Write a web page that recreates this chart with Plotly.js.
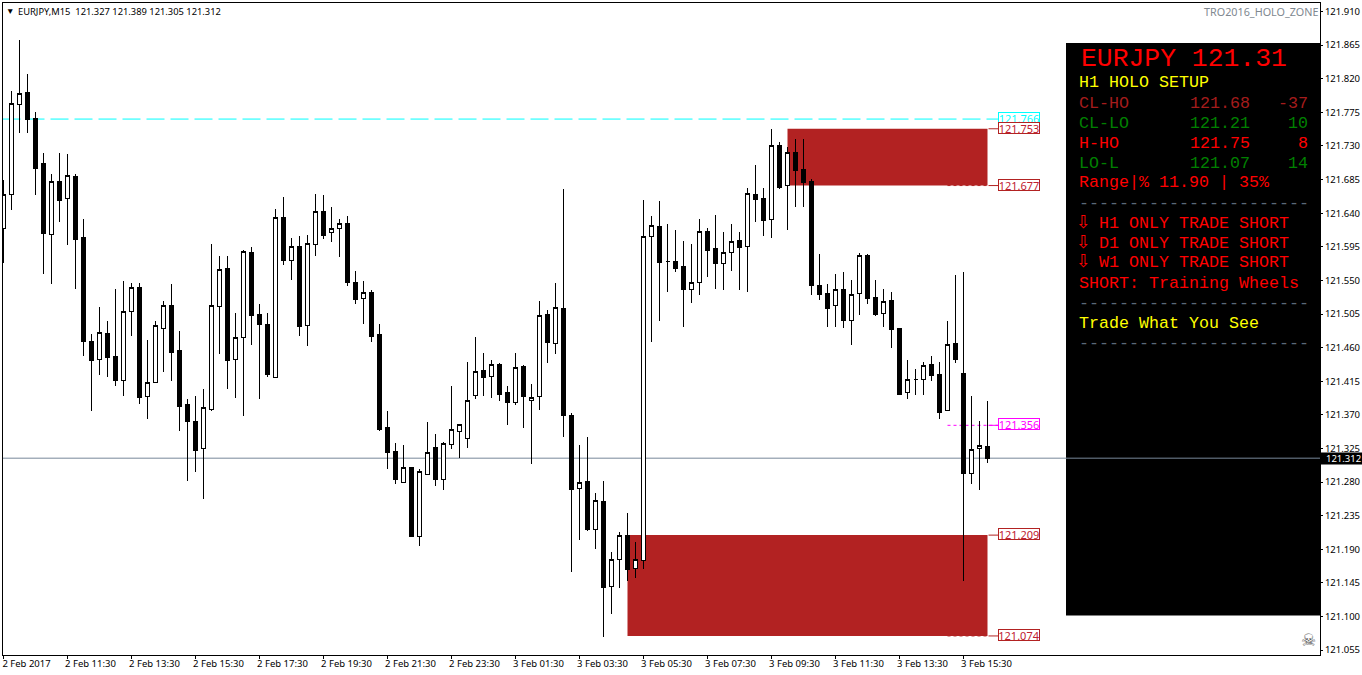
<!DOCTYPE html>
<html>
<head>
<meta charset="utf-8">
<script src="https://cdn.plot.ly/plotly-3.0.0.min.js"></script>
<style>html,body{margin:0;padding:0;background:#fff}#chart{width:1362px;height:675px}
#chart path.box{shape-rendering:crispEdges}</style>
</head>
<body>
<div id="chart"></div>
<script>
const opens = [121.620,121.665,121.785,121.802,121.767,121.706,121.611,121.682,121.660,121.689,
121.607,121.468,121.444,121.479,121.448,121.416,121.508,121.541,121.395,121.413,
121.486,121.516,121.456,121.384,121.361,121.325,121.377,121.515,121.566,121.444,
121.474,121.587,121.504,121.491,121.420,121.634,121.577,121.595,121.490,121.598,
121.642,121.614,121.620,121.626,121.547,121.526,121.534,121.478,121.353,121.321,
121.279,121.300,121.207,121.290,121.326,121.283,121.330,121.348,121.338,121.396,
121.429,121.421,121.437,121.400,121.387,121.435,121.389,121.395,121.504,121.466,
121.512,121.369,121.271,121.281,121.216,121.254,121.140,121.176,121.209,121.164,
121.175,121.609,121.622,121.575,121.575,121.569,121.538,121.547,121.615,121.593,
121.573,121.587,121.603,121.595,121.665,121.660,121.632,121.731,121.677,121.721,
121.699,121.682,121.543,121.532,121.516,121.538,121.496,121.532,121.583,121.527,
121.506,121.523,121.486,121.400,121.417,121.417,121.437,121.424,121.376,121.466,
121.425,121.291,121.325,121.327];
const highs = [121.684,121.803,121.872,121.826,121.776,121.721,121.693,121.720,121.719,121.692,
121.632,121.478,121.515,121.496,121.538,121.549,121.547,121.546,121.470,121.496,
121.523,121.545,121.482,121.391,121.395,121.405,121.599,121.583,121.583,121.507,
121.591,121.595,121.518,121.507,121.646,121.662,121.607,121.609,121.611,121.666,
121.664,121.648,121.632,121.636,121.563,121.549,121.537,121.492,121.375,121.332,
121.329,121.300,121.297,121.360,121.345,121.334,121.409,121.357,121.441,121.474,
121.453,121.444,121.439,121.408,121.453,121.437,121.411,121.523,121.510,121.547,
121.673,121.372,121.330,121.340,121.266,121.281,121.187,121.213,121.238,121.200,
121.658,121.636,121.656,121.625,121.617,121.603,121.599,121.632,121.620,121.638,
121.615,121.626,121.615,121.674,121.705,121.674,121.753,121.735,121.729,121.739,
121.739,121.686,121.586,121.545,121.559,121.561,121.550,121.587,121.585,121.550,
121.538,121.535,121.486,121.443,121.432,121.441,121.449,121.441,121.495,121.557,
121.561,121.395,121.362,121.389];
const lows = [121.573,121.644,121.747,121.748,121.665,121.559,121.545,121.628,121.598,121.539,
121.449,121.375,121.423,121.421,121.409,121.395,121.476,121.385,121.365,121.412,
121.427,121.416,121.348,121.281,121.293,121.258,121.375,121.452,121.405,121.393,
121.369,121.464,121.391,121.421,121.420,121.571,121.550,121.476,121.462,121.583,
121.606,121.602,121.582,121.543,121.519,121.491,121.468,121.348,121.298,121.278,
121.279,121.207,121.195,121.290,121.275,121.270,121.324,121.312,121.325,121.391,
121.395,121.393,121.389,121.357,121.383,121.353,121.304,121.376,121.440,121.451,
121.341,121.159,121.203,121.215,121.191,121.072,121.104,121.138,121.148,121.152,
121.164,121.467,121.496,121.535,121.561,121.488,121.520,121.531,121.554,121.539,
121.537,121.562,121.537,121.535,121.628,121.610,121.607,121.673,121.618,121.648,
121.648,121.530,121.524,121.487,121.487,121.486,121.463,121.504,121.519,121.502,
121.487,121.459,121.396,121.391,121.396,121.396,121.416,121.365,121.376,121.440,
121.148,121.277,121.269,121.305];
const closes = [121.665,121.787,121.800,121.765,121.700,121.613,121.682,121.657,121.690,121.605,
121.468,121.443,121.480,121.447,121.416,121.508,121.541,121.393,121.413,121.490,
121.516,121.453,121.381,121.361,121.322,121.380,121.516,121.565,121.443,121.474,
121.589,121.503,121.491,121.424,121.634,121.577,121.595,121.488,121.599,121.642,
121.610,121.620,121.626,121.547,121.524,121.534,121.475,121.350,121.320,121.283,
121.300,121.207,121.294,121.320,121.283,121.332,121.350,121.357,121.389,121.428,
121.420,121.437,121.397,121.387,121.433,121.395,121.393,121.503,121.467,121.514,
121.369,121.270,121.279,121.216,121.255,121.139,121.176,121.209,121.163,121.176,
121.609,121.624,121.574,121.575,121.566,121.538,121.547,121.615,121.590,121.573,
121.587,121.602,121.594,121.666,121.658,121.630,121.731,121.674,121.721,121.697,
121.681,121.543,121.531,121.512,121.538,121.496,121.531,121.583,121.526,121.504,
121.522,121.484,121.397,121.417,121.417,121.436,121.423,121.373,121.464,121.444,
121.291,121.324,121.329,121.312];

const yTicks = [121.055,121.100,121.145,121.190,121.235,121.280,121.325,121.370,121.415,121.460,
121.505,121.550,121.595,121.640,121.685,121.730,121.775,121.820,121.865,121.910];
const xTickIndex = [0,8,16,24,32,40,48,56,64,72,80,88,96,104,112,120];
const xTickText = ["2 Feb 2017","2 Feb 11:30","2 Feb 13:30","2 Feb 15:30","2 Feb 17:30","2 Feb 19:30","2 Feb 21:30","2 Feb 23:30",
"3 Feb 01:30","3 Feb 03:30","3 Feb 05:30","3 Feb 07:30","3 Feb 09:30","3 Feb 11:30","3 Feb 13:30","3 Feb 15:30"];

const bidPrice = 121.312;
const RED = "#B22222", CYAN = "#00FFFF", MAGENTA = "#FF00FF", BID = "#778899";
const UI = "'Noto Sans', 'Open Sans', sans-serif";
const MONO = "'Liberation Mono', monospace";

const W = 1362, H = 675, mL = 3, mR = 42, mT = 3, mB = 20;
const pw = W - mL - mR, ph = H - mT - mB;
const px = x => (x - mL) / pw;
const py = y => 1 - (y - mT) / ph;

const t0 = Date.UTC(2017, 1, 2, 9, 30);
const step = 15 * 60 * 1000;
const tAt = i => new Date(t0 + i * step).toISOString().slice(0, 23).replace("T", " ");
const times = opens.map((_, i) => tAt(i));
const xOf = pixel => tAt((pixel - 3) / 8);

const trace = {
  type: "candlestick", x: times, open: opens, high: highs, low: lows, close: closes,
  whiskerwidth: 0, hoverinfo: "skip",
  increasing: {line: {color: "#000", width: 1}, fillcolor: "#fff"},
  decreasing: {line: {color: "#000", width: 1}, fillcolor: "#000"}
};

const shapes = [];
function rect(x0, x1, p0, p1) {
  shapes.push({type: "rect", layer: "below", xref: "x", yref: "y", x0: xOf(x0), x1: xOf(x1), y0: p0, y1: p1, fillcolor: RED, line: {width: 0}});
}
function hline(x0, x1, p, color, dash) {
  shapes.push({type: "line", layer: "below", xref: "x", yref: "y", x0: xOf(x0), x1: xOf(x1), y0: p, y1: p, line: {color: color, width: 1, dash: dash}});
}
// panel
shapes.push({type: "rect", layer: "below", xref: "paper", yref: "paper", x0: px(1066), x1: 1, y0: py(615.5), y1: py(43), fillcolor: "#000", line: {width: 0}});
rect(787, 987, 121.753, 121.677);
rect(627, 987, 121.209, 121.074);
hline(2, 999, 121.766, CYAN, "18px,6px");
hline(947, 987, 121.677, RED, "3px,3px");
hline(947, 987, 121.074, RED, "3px,3px");
hline(947, 999, 121.356, MAGENTA, "3px,3px");
hline(988, 999, 121.356, MAGENTA, "solid");
hline(988, 999, 121.753, RED, "solid");
hline(988, 999, 121.677, RED, "solid");
hline(988, 999, 121.209, RED, "solid");
hline(988, 999, 121.074, RED, "solid");
shapes.push({type: "line", layer: "below", xref: "paper", yref: "y", x0: 0, x1: 1, y0: bidPrice, y1: bidPrice, line: {color: BID, width: 1}});
// bid tag on the axis
shapes.push({type: "rect", xref: "paper", yref: "paper", x0: px(1320), x1: px(1362), y0: py(464.5), y1: py(452.5), fillcolor: "#000", line: {width: 0}});

const ann = [];
function label(x, y, text, color, size, font, anchor) {
  ann.push({xref: "paper", yref: "paper", x: px(x), y: py(y), text: text, showarrow: false,
    xanchor: anchor || "left", yanchor: "middle", borderpad: 0,
    font: {family: font || MONO, size: size || 16.67, color: color}});
}
// header
label(5, 10.5, "\u25BC", "#000", 8.5, UI);
label(17, 11, "EURJPY,M15  121.327 121.389 121.305 121.312", "#000", 9.35, UI);
label(1318.5, 11, "TRO2016_HOLO_ZONE", "#808890", 10.8, UI, "right");
// bid tag text
label(1325, 458.5, "121.312", "#fff", 9.5, UI);
// level boxes
const levels = [[121.766, CYAN, CYAN], [121.753, RED, "#C02030"], [121.677, RED, "#C02030"], [121.356, MAGENTA, MAGENTA], [121.209, RED, "#C02030"], [121.074, RED, "#C02030"]];
levels.forEach(([p, border, color]) => {
  ann.push({xref: "paper", yref: "y", x: px(997.5), y: p, yshift: 1, text: p.toFixed(3), showarrow: false, xanchor: "left", yanchor: "middle",
    width: 40, height: 10, borderwidth: 1, borderpad: 0, bordercolor: border, bgcolor: "#fff", align: "center",
    font: {family: UI, size: 11, color: color}});
});
// panel text
label(1080, 59, "EURJPY 121.31", "#FF0000", 26.4);
label(1078, 83, "H1 HOLO SETUP", "#FFFF00");
[[103, "CL-HO", "121.68", "-37", "#A51C1C"], [123, "CL-LO", "121.21", "10", "#008000"], [143, "H-HO", "121.75", "8", "#FF0000"], [163, "LO-L", "121.07", "14", "#008000"]].forEach(r => {
  label(1078, r[0], r[1], r[4]);
  label(1189, r[0], r[2], r[4]);
  label(1308.5, r[0], r[3], r[4], 16.67, MONO, "right");
});
label(1078, 183, "Range|% 11.90 | 35%", "#FF0000");
const rule = "-----------------------";
[203, 303, 343].forEach(y => label(1078, y, rule, "#5A6878"));
[[223, "H1"], [243, "D1"], [263, "W1"]].forEach(r => {
  label(1075, r[0] - 2, "\u21E9", "#FF0000", 18, "'DejaVu Sans'");
  label(1098, r[0], r[1] + " ONLY TRADE SHORT", "#FF0000");
});
label(1078, 283, "SHORT: Training Wheels", "#FF0000");
label(1078, 323, "Trade What You See", "#FFFF00");
// skull
label(1308, 640, "\u2620", "#555", 17, "'DejaVu Sans'", "center");

const layout = {
  width: W, height: H, margin: {l: mL, r: mR, t: mT, b: mB, pad: 0},
  paper_bgcolor: "#fff", plot_bgcolor: "#fff", showlegend: false, dragmode: false,
  boxgap: 0.285714, hovermode: false,
  xaxis: {
    type: "date", range: [tAt(-0.0625), tAt(164.5625)], rangeslider: {visible: false},
    tickmode: "array", tickvals: xTickIndex.map(tAt), ticktext: xTickText,
    ticks: "outside", ticklen: 3, tickwidth: 1, tickcolor: "#000",
    ticklabelshift: 23, ticklabelstandoff: -3,
    showgrid: false, zeroline: false, showline: true, linecolor: "#000", linewidth: 1, mirror: true,
    tickfont: {family: UI, size: 9.5, color: "#000"}
  },
  yaxis: {
    side: "right", range: [121.0485, 121.9214], tickmode: "array", tickvals: yTicks,
    ticktext: yTicks.map(v => v.toFixed(3)),
    ticks: "outside", ticklen: 2, tickwidth: 1, tickcolor: "#000",
    showgrid: false, zeroline: false, showline: true, linecolor: "#000", linewidth: 1, mirror: true,
    tickfont: {family: UI, size: 9.5, color: "#000"}
  },
  shapes: shapes, annotations: ann
};
Plotly.newPlot("chart", [trace], layout, {displayModeBar: false, staticPlot: true});
</script>
</body>
</html>
